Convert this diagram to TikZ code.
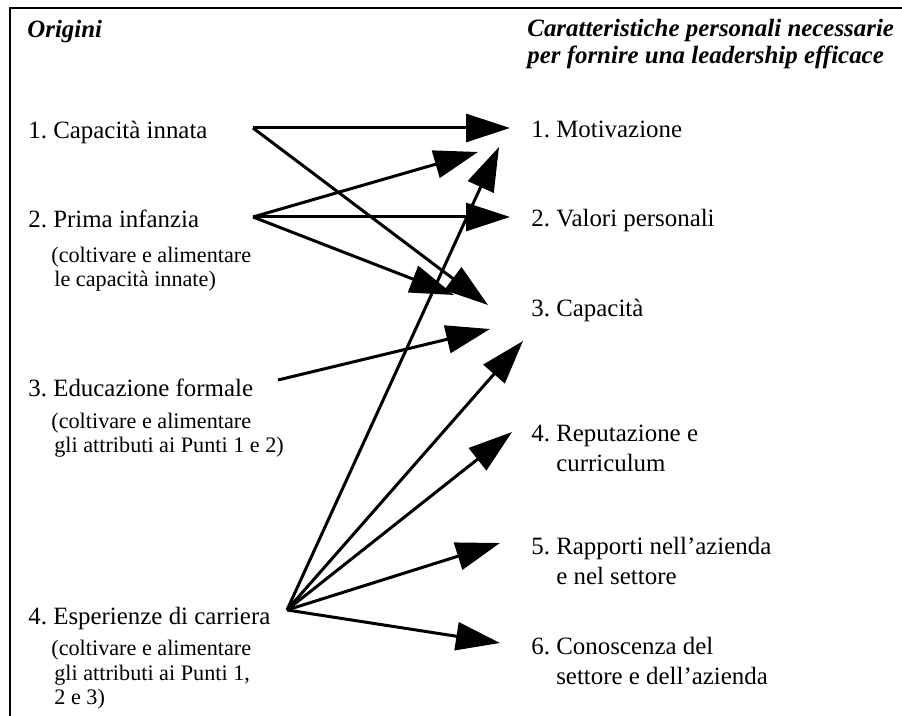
\documentclass[tikz,border=0pt]{standalone}
\usepackage{fontspec}
\setmainfont{Liberation Serif}
\usepackage{tikz}
\usetikzlibrary{arrows.meta}
\frenchspacing
\newcommand{\itemfont}{\fontsize{12.45}{15}\selectfont}
\newcommand{\notefont}{\fontsize{11.1}{12.4}\selectfont}
\newcommand{\hdrfont}{\fontsize{12.45}{13.6}\selectfont\bfseries\itshape}
% note: base anchor of a multi-line node sits on its last line
\tikzset{
  hdr/.style  ={font=\hdrfont, anchor=base west, inner sep=0pt, align=left},
  item/.style ={font=\itemfont, anchor=base west, inner sep=0pt, align=left},
  note/.style ={font=\notefont, anchor=base west, inner sep=0pt, align=left},
  lnk/.style  ={-{Triangle[length=22pt,width=14pt]}, line width=1.5pt},
  frm/.style  ={line width=1.4pt},
}

\begin{document}
\begin{tikzpicture}[x=0.5pt, y=-0.5pt]
  \useasboundingbox (0,0) rectangle (902,716);
  \draw[frm] (10,716) -- (10,8) -- (902,8);

  % column headers
  \node[hdr] (orig) at (27,38) {Origini};
  \node[hdr] (chars) at (527,64)
    {Caratteristiche personali necessarie\\per fornire una leadership efficace};

  % origins
  \node[item] (o1) at (28,139) {1. Capacità innata};
  \node[item] (o2) at (28,228) {2. Prima infanzia};
  \node[note] (o2n) at (51,287)
    {(coltivare e alimentare\\\kern1.5pt le capacità innate)};
  \node[item] (o3) at (28,397) {3. Educazione formale};
  \node[note] (o3n) at (51,453)
    {(coltivare e alimentare\\\kern1.5pt gli attributi ai Punti 1 e 2)};
  \node[item] (o4) at (28,625) {4. Esperienze di carriera};
  \node[note] (o4n) at (51,705)
    {(coltivare e alimentare\\\kern1.5pt gli attributi ai Punti 1,\\\kern1.5pt 2 e 3)};

  % characteristics
  \node[item] (c1) at (531,138) {1. Motivazione};
  \node[item] (c2) at (531,227) {2. Valori personali};
  \node[item] (c3) at (531,317) {3. Capacità};
  \node[item] (c4) at (531,472) {4. Reputazione e\\\hspace*{1em}curriculum};
  \node[item] (c5) at (531,585) {5. Rapporti nell’azienda\\\hspace*{1em}e nel settore};
  \node[item] (c6) at (531,685) {6. Conoscenza del\\\hspace*{1em}settore e dell’azienda};

  % arrow ends
  \coordinate (o1r) at (253,128);
  \coordinate (o2r) at (253,217);
  \coordinate (o3r) at (278,380);
  \coordinate (o4r) at (287,610);
  \coordinate (c1a) at (510,128);
  \coordinate (c1b) at (478,152);
  \coordinate (c1c) at (499,147);
  \coordinate (c2a) at (510,217);
  \coordinate (c3a) at (488,305);
  \coordinate (c3b) at (454,295);
  \coordinate (c3c) at (490,329);
  \coordinate (c3d) at (523,341);
  \coordinate (c4a) at (512,432);
  \coordinate (c5a) at (500,543);
  \coordinate (c6a) at (500,643);

  \draw[lnk] (o1r) -- (c1a);
  \draw[lnk] (o1r) -- (c3a);
  \draw[lnk] (o2r) -- (c1b);
  \draw[lnk] (o2r) -- (c2a);
  \draw[lnk] (o2r) -- (c3b);
  \draw[lnk] (o3r) -- (c3c);
  \draw[lnk] (o4r) -- (c1c);
  \draw[lnk] (o4r) -- (c3d);
  \draw[lnk] (o4r) -- (c4a);
  \draw[lnk] (o4r) -- (c5a);
  \draw[lnk] (o4r) -- (c6a);
\end{tikzpicture}
\end{document}
